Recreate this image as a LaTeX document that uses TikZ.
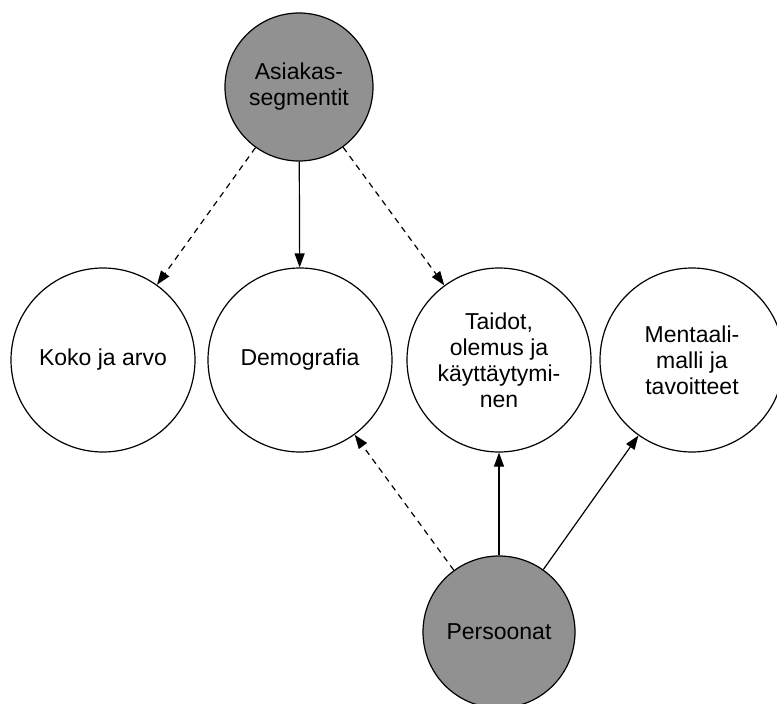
\documentclass[tikz,border=0pt]{standalone}
\usepackage{fontspec}
\setmainfont{Liberation Sans}
\usetikzlibrary{arrows.meta}
\definecolor{fillg}{RGB}{145,145,145}
\tikzset{
  bubble/.style={circle,draw=black,line width=1.2pt,fill=white,inner sep=0pt,minimum size=184pt,align=center,font=\fontsize{23}{26}\selectfont},
  darkbubble/.style={bubble,fill=fillg},
  conn/.style={line width=1.2pt,-{Triangle[length=14pt,width=10pt]}},
  dconn/.style={conn,dash pattern=on 6pt off 5pt},
}
\begin{document}
\begin{tikzpicture}[x=1pt,y=-1pt]
\useasboundingbox (0,0) rectangle (777,704);
\node[darkbubble,minimum size=148pt] (seg) at (299,87) {Asiakas-\\segmentit};
\node[bubble] (koko) at (103,360) {Koko ja arvo};
\node[bubble] (demo) at (300,360) {Demografia};
\node[bubble] (taid) at (499,360) {Taidot,\\olemus ja\\käyttäytymi-\\nen};
\node[bubble] (ment) at (692,360) {Mentaali-\\malli ja\\tavoitteet};
\node[darkbubble,minimum size=152pt] (pers) at (499,632) {Persoonat};
\draw[dconn] (seg) -- (koko);
\draw[conn] (seg) -- (demo);
\draw[dconn] (seg) -- (taid);
\draw[dconn] (pers) -- (demo);
\draw[conn] (pers) -- (taid);
\draw[conn] (pers) -- (ment);
\end{tikzpicture}
\end{document}
